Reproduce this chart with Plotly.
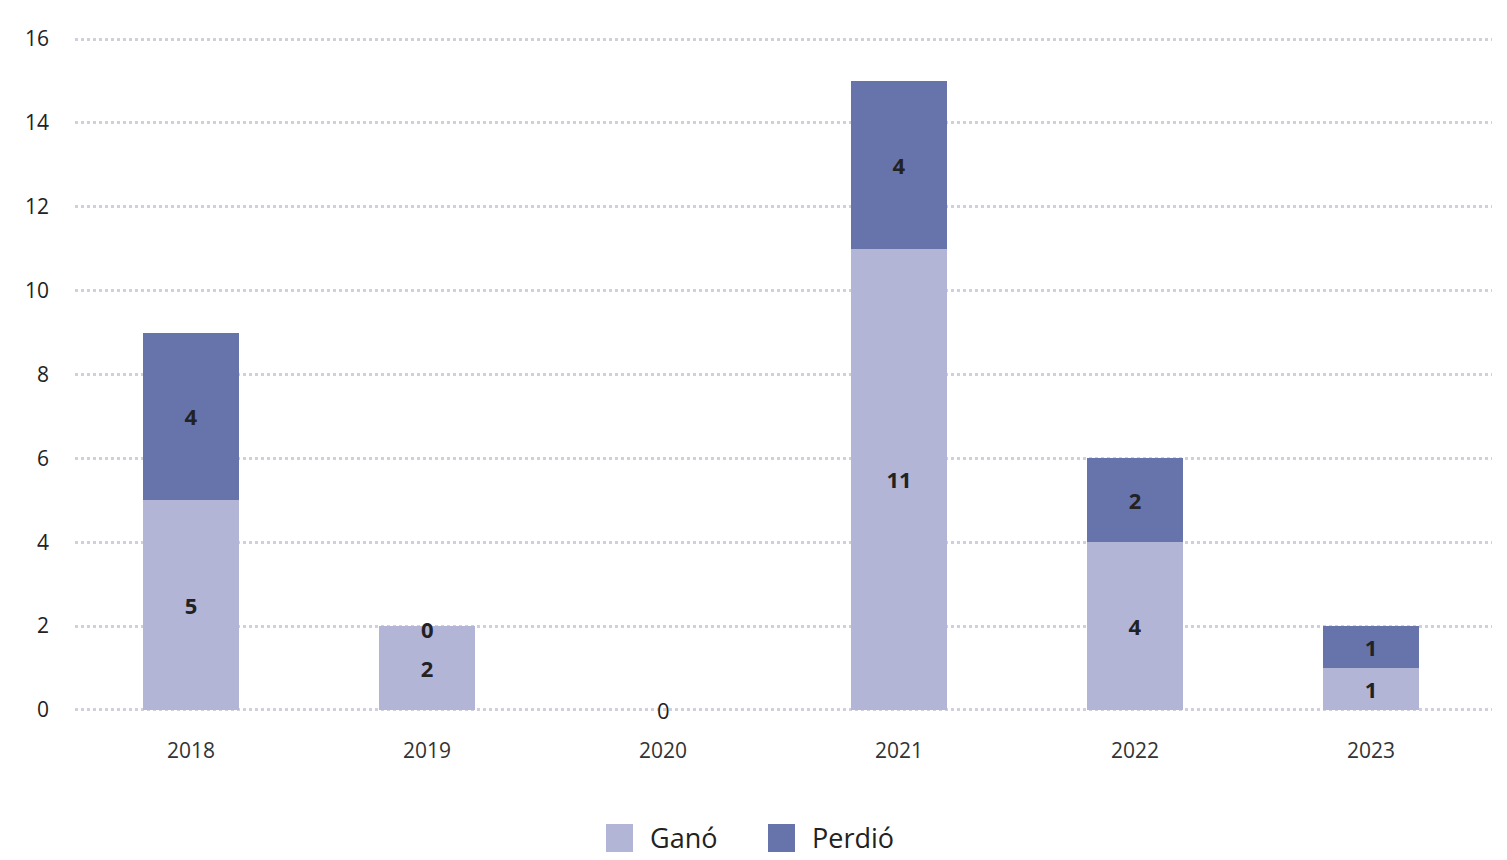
import plotly.graph_objects as go

years = ["2018", "2019", "2020", "2021", "2022", "2023"]
gano = [5, 2, 0, 11, 4, 1]
perdio = [4, 0, 0, 4, 2, 1]
y_ticks = [0, 2, 4, 6, 8, 10, 12, 14, 16]

c_gano = "#b3b5d6"
c_perdio = "#6774ac"
font_fam = "Open Sans, Noto Sans, sans-serif"

W, H = 1507, 860
ymin, ymax = -0.05, 16.05
ppu = (709 - 39) / 16.0  # pixels per unit in reference
ml = 75
mr = W - 1492
mt = int(round(39 - (ymax - 16) * ppu))
mb = int(round(H - 709 + (0 - ymin) * ppu)) - 5
pw, ph = W - ml - mr, H - mt - mb
xmin, xmax = -0.5 + 2 / 236, 5.5 + 3 / 236


def px2paper_x(px):
    return (px - ml) / pw


def px2paper_y(py):
    return (H - mb - py) / ph


fig = go.Figure()
for name, vals, col in [("Ganó", gano, c_gano), ("Perdió", perdio, c_perdio)]:
    fig.add_trace(go.Bar(
        x=years, y=vals, name=name, marker=dict(color=col, line=dict(width=0)),
        text=[str(v) if v != 0 else "" for v in vals],
        textposition="inside", insidetextanchor="middle",
        textfont=dict(family=font_fam, size=22, color="#222222", weight="bold"),
        showlegend=False, hoverinfo="skip",
    ))

annotations = []
# labels for zero-valued segments (x given as category index)
for i, yr in enumerate(years):
    if gano[i] == 0 and perdio[i] == 0:
        annotations.append(dict(x=i, y=0, text="0", showarrow=False, xref="x", yref="y",
                                font=dict(family=font_fam, size=22, color="#222222"), yanchor="middle"))
    elif perdio[i] == 0:
        annotations.append(dict(x=i, y=gano[i] + perdio[i], text="0", showarrow=False, xref="x", yref="y",
                                font=dict(family=font_fam, size=22, color="#222222", weight="bold"),
                                yanchor="middle", yshift=-3))

# custom legend (large swatches)
shapes = []
legend_items = [("Ganó", c_gano, 606, 648), ("Perdió", c_perdio, 768, 810)]
for name, col, sx, tx in legend_items:
    shapes.append(dict(type="rect", xref="paper", yref="paper",
                       x0=px2paper_x(sx), x1=px2paper_x(sx + 27),
                       y0=px2paper_y(852), y1=px2paper_y(824),
                       fillcolor=col, line=dict(width=0)))
    annotations.append(dict(x=px2paper_x(tx), y=px2paper_y(837), xref="paper", yref="paper",
                            text=name, showarrow=False, xanchor="left", yanchor="middle",
                            font=dict(family=font_fam, size=27, color="#222222")))

fig.update_layout(
    width=W, height=H,
    margin=dict(l=ml, r=mr, t=mt, b=mb, pad=0),
    plot_bgcolor="white", paper_bgcolor="white",
    barmode="stack", bargap=0.59,
    font=dict(family=font_fam, color="#222222"),
    xaxis=dict(type="category", range=[xmin, xmax], showgrid=False, showline=False, ticks="",
               zeroline=False, tickfont=dict(size=21, color="#333333"), ticklabelstandoff=24),
    yaxis=dict(range=[ymin, ymax], tickvals=y_ticks, showgrid=True, gridcolor="#d0d0dc",
               griddash="3px,3px", gridwidth=2.5, zeroline=False, showline=False,
               tickfont=dict(size=21, color="#222222"), ticklabelstandoff=25),
    shapes=shapes, annotations=annotations,
)

fig.write_html("out.html", config={"displayModeBar": False},
               post_script="document.body.style.margin='0px';")
